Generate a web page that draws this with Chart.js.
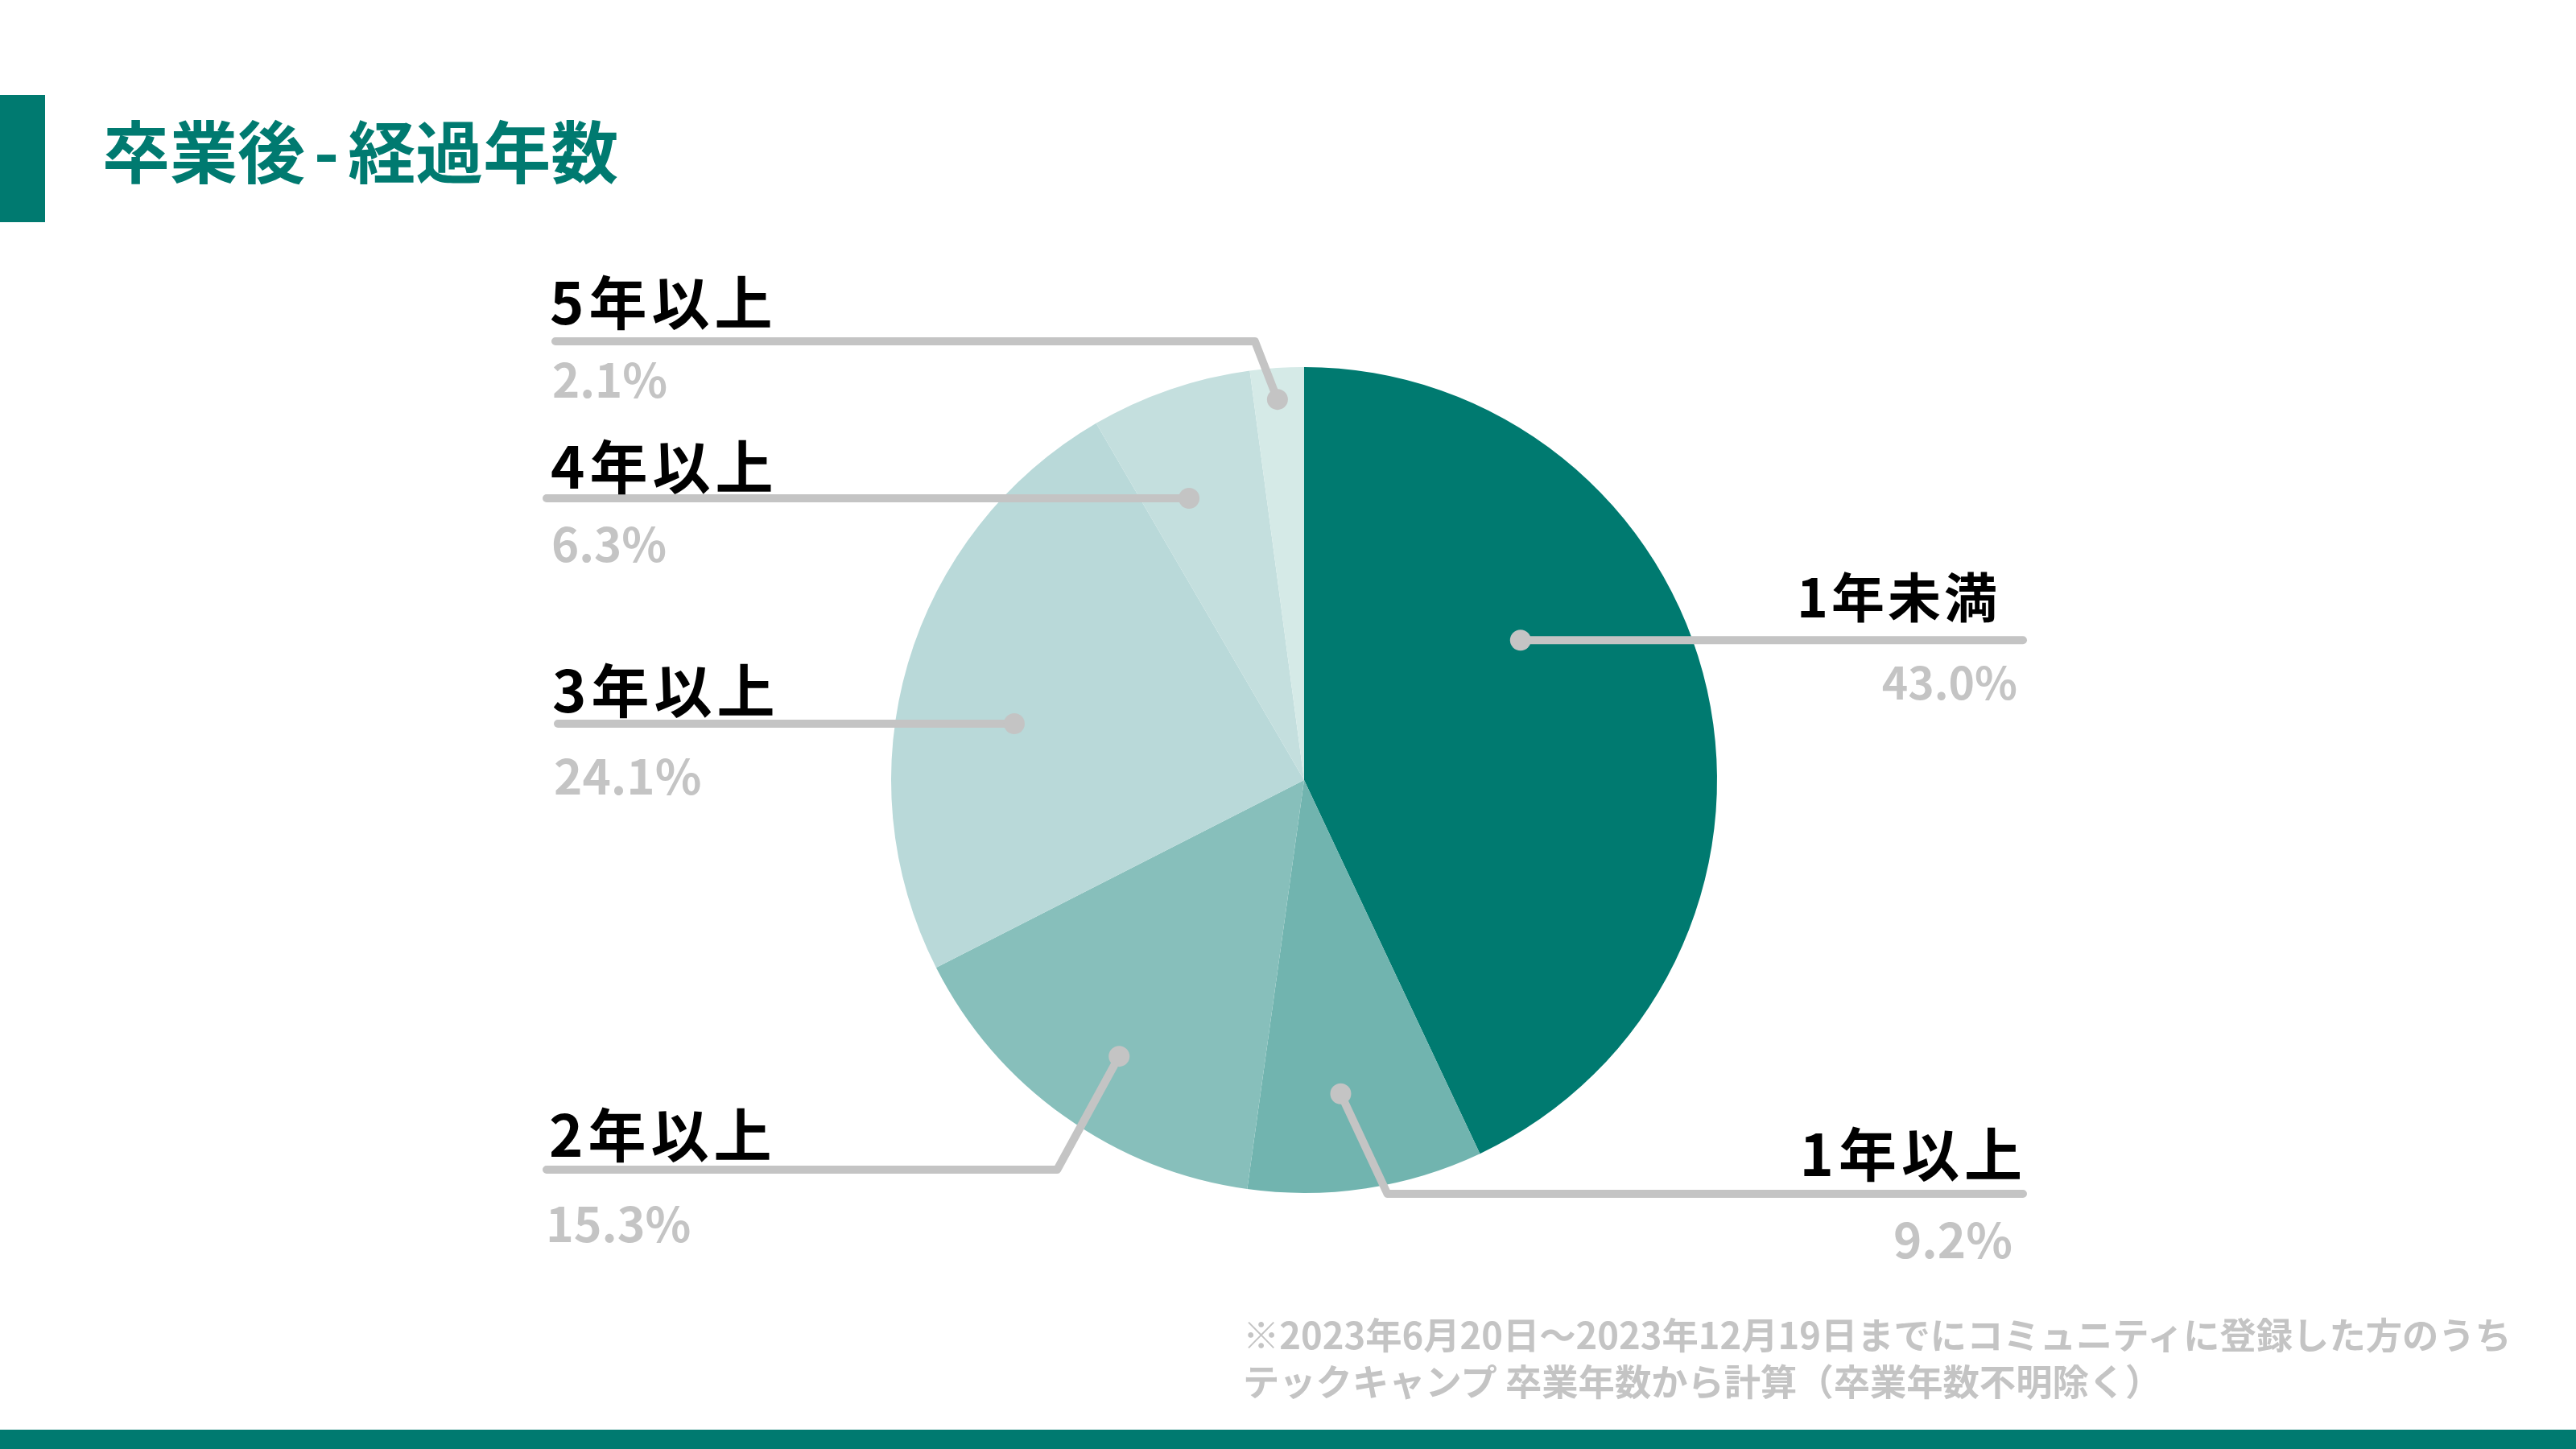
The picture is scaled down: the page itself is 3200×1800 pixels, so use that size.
<!DOCTYPE html>
<html lang="ja">
<head>
<meta charset="utf-8">
<script src="https://cdn.jsdelivr.net/npm/chart.js@4.4.1/dist/chart.umd.min.js"></script>
<style>
  html, body { margin: 0; padding: 0; background: #fff; }
  body { width: 3200px; height: 1800px; position: relative; overflow: hidden;
         font-family: 'Noto Sans CJK JP', sans-serif; }
  #titleBar { position: absolute; left: 0; top: 118px; width: 56px; height: 158px; background: #007A70; }
  #title { position: absolute; left: 127px; top: 143px; font-size: 84px; line-height: 1; font-weight: 700;
           color: #007A70; white-space: nowrap; word-spacing: -8px; }
  #note { position: absolute; left: 1544px; top: 1627px; font-size: 45.3px; line-height: 58px; font-weight: 700;
          color: #C4C4C4; white-space: nowrap; }
  #footBar { position: absolute; left: 0; top: 1776px; width: 3200px; height: 24px; background: #007A70; }
  #myChart { position: absolute; left: 0; top: 0; }
</style>
</head>
<body>
<div id="titleBar"></div>
<div id="title">卒業後 - 経過年数</div>
<canvas id="myChart" width="3200" height="1800" style="width:3200px;height:1800px"></canvas>
<div id="note">※2023年6月20日～2023年12月19日までにコミュニティに登録した方のうち<br>テックキャンプ 卒業年数から計算（卒業年数不明除く）</div>
<div id="footBar"></div>
<script>
// data, clockwise from 12 o'clock
var categories = ['1年未満', '1年以上', '2年以上', '3年以上', '4年以上', '5年以上'];
var shares = [43.0, 9.2, 15.3, 24.1, 6.3, 2.1];
var sliceColors = ['#007A70', '#71B4AF', '#87BFBB', '#B9D9D9', '#C4DFDE', '#D5EAE7'];

// leader line layout: where the dot sits in the slice (angle / radius fraction),
// optional bend, outer end of the line and text offsets
var callouts = [
  { f: 0.369, r: 0.624, bend: null, endX: 2513, textX: 2485, align: 'right', textDy: -28, pctX: 2506, pctDy: 74, size: 66, pctSize: 55 },
  { f: 0.56, r: 0.765, bend: { y: 1483, dx: 58 }, endX: 2513, textX: 2518, align: 'right', textDy: -22, pctX: 2500, pctDy: 80, size: 72, pctSize: 60 },
  { f: 0.47, r: 0.805, bend: { y: 1453, dx: -77 }, endX: 679, textX: 682, align: 'left', textDy: -16, pctX: 678, pctDy: 90, size: 72, pctSize: 59 },
  { f: 0.438, r: 0.715, bend: null, endX: 693, textX: 686, align: 'left', textDy: -14, pctX: 688, pctDy: 88, size: 72, pctSize: 60 },
  { f: 0.354, r: 0.737, bend: null, endX: 679, textX: 684, align: 'left', textDy: -12, pctX: 685, pctDy: 79, size: 72, pctSize: 58 },
  { f: 0.47, r: 0.924, bend: { y: 424, dx: -28 }, endX: 690, textX: 683, align: 'left', textDy: -21, pctX: 686, pctDy: 70, size: 72, pctSize: 58 }
];

var calloutPlugin = {
  id: 'callouts',
  afterDatasetsDraw: function(chart) {
    var ctx = chart.ctx;
    var arcs = chart.getDatasetMeta(0).data;
    ctx.save();
    arcs.forEach(function(arc, i) {
      var p = arc.getProps(['x', 'y', 'startAngle', 'endAngle', 'outerRadius'], true);
      var c = callouts[i];
      var a = p.startAngle + c.f * (p.endAngle - p.startAngle);
      var dx = p.x + Math.cos(a) * p.outerRadius * c.r;
      var dy = p.y + Math.sin(a) * p.outerRadius * c.r;
      var lineY = c.bend ? c.bend.y : dy;

      ctx.strokeStyle = '#C4C4C4';
      ctx.lineWidth = 10;
      ctx.lineCap = 'round';
      ctx.lineJoin = 'round';
      ctx.beginPath();
      ctx.moveTo(dx, dy);
      if (c.bend) ctx.lineTo(dx + c.bend.dx, lineY);
      ctx.lineTo(c.endX, lineY);
      ctx.stroke();

      ctx.fillStyle = '#C4C4C4';
      ctx.beginPath();
      ctx.arc(dx, dy, 13, 0, Math.PI * 2);
      ctx.fill();

      ctx.textAlign = c.align;
      ctx.textBaseline = 'alphabetic';
      ctx.fillStyle = '#000';
      ctx.font = 'bold ' + c.size + "px 'Noto Sans CJK JP'";
      ctx.letterSpacing = (c.size === 72 ? 6 : 4) + 'px';
      ctx.fillText(categories[i], c.textX, lineY + c.textDy);

      ctx.fillStyle = '#C4C4C4';
      ctx.font = 'bold ' + c.pctSize + "px 'Noto Sans CJK JP'";
      ctx.letterSpacing = '0px';
      ctx.fillText(shares[i].toFixed(1) + '%', c.pctX, lineY + c.pctDy);
    });
    ctx.restore();
  }
};

window.onload = function() {
  var ctx = document.getElementById('myChart').getContext('2d');
  var chart = new Chart(ctx, {
    type: 'pie',
    data: {
      labels: categories,
      datasets: [{
        data: shares,
        backgroundColor: sliceColors,
        borderWidth: 0,
        hoverOffset: 0
      }]
    },
    options: {
      responsive: false,
      devicePixelRatio: 1,
      animation: false,
      events: [],
      layout: { padding: { left: 1107, right: 1067, top: 456, bottom: 318 } },
      plugins: { legend: { display: false }, tooltip: { enabled: false } }
    },
    plugins: [calloutPlugin]
  });
};
</script>
</body>
</html>
